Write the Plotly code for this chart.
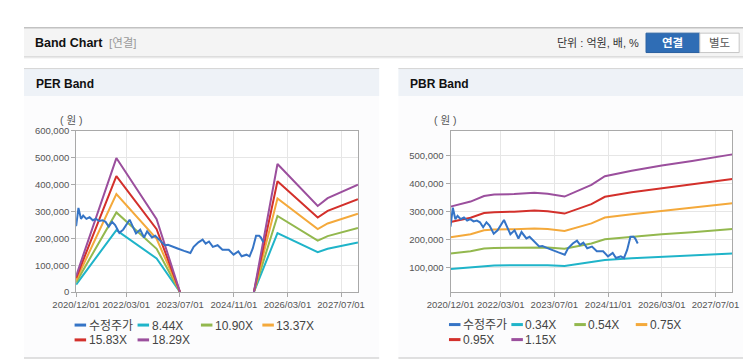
import plotly.graph_objects as go

W, H = 749, 364

# ---------------- data ----------------
price_dates = ['2020-12-01','2020-12-22','2021-01-14','2021-02-03','2021-03-04','2021-04-02','2021-05-01',
               '2021-05-30','2021-06-28','2021-07-28','2021-08-25','2021-09-23','2021-10-23','2021-11-20',
               '2021-12-28','2022-02-01','2022-03-31','2022-04-29','2022-05-28','2022-07-05','2022-08-09',
               '2022-09-06','2022-10-20','2022-11-18','2023-01-01','2023-02-13','2023-03-14','2023-04-27',
               '2023-06-09','2023-08-07','2023-10-03','2023-11-02','2023-12-15','2024-01-22','2024-02-19',
               '2024-03-20','2024-04-24','2024-06-06','2024-07-20','2024-09-15','2024-10-29','2024-12-11',
               '2025-01-10','2025-02-23','2025-03-23','2025-04-21','2025-05-21','2025-06-18','2025-07-03',
               '2025-07-26']
price_values = [245000, 313000, 272000, 284000, 272000, 278000, 267000, 272000, 264000, 267000, 261000,
                243000, 261000, 249000, 220000, 232000, 269000, 243000, 218000, 232000, 203000, 226000,
                203000, 209000, 191000, 174000, 176000, 168000, 162000, 153000, 145000, 168000, 185000,
                195000, 180000, 188000, 168000, 174000, 157000, 157000, 139000, 151000, 133000, 139000,
                133000, 162000, 209000, 209000, 203000, 185000]

per_dates = ['2020-12-01','2021-12-01','2022-12-01','2023-07-01','2024-06-01','2025-05-01',
             '2025-12-01','2026-12-01','2027-03-01','2027-12-01']
per_844 = [28000, 230000, 125000, 0, None, 0, 219000, 148000, 161000, 184000]
per_1090 = [36000, 296000, 161000, 0, None, 0, 283000, 191000, 208000, 238000]
per_1337 = [44000, 364000, 198000, 0, None, 0, 348000, 234000, 255000, 291000]
per_1583 = [52000, 431000, 234000, 0, None, 0, 412000, 277000, 302000, 345000]
per_1829 = [60000, 498000, 271000, 0, None, 0, 476000, 320000, 349000, 399000]

pbr_dates = ['2020-12-01','2021-06-01','2021-10-01','2022-01-01','2022-07-01','2023-01-01','2023-05-01',
             '2023-10-01','2024-06-01','2024-10-01','2025-06-01','2026-03-01','2026-12-01','2027-12-01']
pbr_034 = [94000, 99000, 105000, 106000, 107000, 108000, 107000, 104000, 117000, 126000, 132000, 137000, 142000, 149000]
pbr_054 = [149000, 157000, 167000, 169000, 170000, 172000, 171000, 166000, 185000, 200000, 209000, 218000, 225000, 237000]
pbr_075 = [207000, 218000, 232000, 235000, 236000, 239000, 237000, 230000, 257000, 278000, 290000, 302000, 313000, 329000]
pbr_095 = [262000, 277000, 294000, 297000, 299000, 303000, 300000, 292000, 326000, 352000, 368000, 383000, 396000, 416000]
pbr_115 = [317000, 335000, 355000, 360000, 362000, 367000, 363000, 353000, 395000, 426000, 445000, 464000, 480000, 504000]

per_names = ['8.44X', '10.90X', '13.37X', '15.83X', '18.29X']
pbr_names = ['0.34X', '0.54X', '0.75X', '0.95X', '1.15X']
x_tick_vals = ['2020-12-01', '2022-03-01', '2023-07-01', '2024-11-01', '2026-03-01', '2027-07-01']
x_tick_text = ['2020/12/01', '2022/03/01', '2023/07/01', '2024/11/01', '2026/03/01', '2027/07/01']
x_range = ['2020-12-01', '2027-12-01']

# ---------------- style ----------------
C_PRICE = '#3574c6'
BAND_COLORS = ['#1fb4c9', '#93b84e', '#f4a93b', '#d3302b', '#9b4f9d']
FONT = 'Liberation Sans, Arial, Noto Sans CJK KR, sans-serif'


def px(x):
    return x / W


def py(y):
    return 1 - y / H


fig = go.Figure()

# PER traces (bands first, price on top)
for nm, vals, col in zip(per_names, [per_844, per_1090, per_1337, per_1583, per_1829], BAND_COLORS):
    fig.add_trace(go.Scatter(x=per_dates, y=vals, mode='lines', name=nm, connectgaps=False,
                             line=dict(color=col, width=2), xaxis='x', yaxis='y'))
fig.add_trace(go.Scatter(x=price_dates, y=price_values, mode='lines', name='수정주가',
                         line=dict(color=C_PRICE, width=2), xaxis='x', yaxis='y'))

# PBR traces
for nm, vals, col in zip(pbr_names, [pbr_034, pbr_054, pbr_075, pbr_095, pbr_115], BAND_COLORS):
    fig.add_trace(go.Scatter(x=pbr_dates, y=vals, mode='lines', name=nm,
                             line=dict(color=col, width=2), xaxis='x2', yaxis='y2'))
fig.add_trace(go.Scatter(x=price_dates, y=price_values, mode='lines', name='수정주가',
                         line=dict(color=C_PRICE, width=2), xaxis='x2', yaxis='y2'))

axis_common = dict(showline=True, mirror=True, linecolor='#a9a9a9', linewidth=1,
                   gridcolor='#e6e6e6', gridwidth=1, ticks='outside', ticklen=4, tickcolor='#a9a9a9',
                   tickfont=dict(family=FONT, size=9.5, color='#555555'), zeroline=False, fixedrange=True)

ydom = [py(295), py(128.5)]
fig.update_layout(
    width=W, height=H, margin=dict(l=0, r=0, t=0, b=0),
    paper_bgcolor='white', plot_bgcolor='white', showlegend=False,
    xaxis=dict(domain=[px(54.3), px(347.9)], type='date', range=x_range,
               tickvals=x_tick_vals, ticktext=x_tick_text, anchor='y', **axis_common),
    yaxis=dict(domain=ydom, range=[0, 600000], dtick=100000, tick0=0, tickformat=',d',
               anchor='x', **axis_common),
    xaxis2=dict(domain=[px(444.3), px(737.9)], type='date', range=x_range,
                tickvals=x_tick_vals, ticktext=x_tick_text, anchor='y2', **axis_common),
    yaxis2=dict(domain=ydom, range=[11000, 589000], dtick=100000, tick0=0, tickformat=',d',
                anchor='x2', **axis_common),
)

shapes = []


def rect(x0, y0, x1, y1, fill, line_color=None, lw=0):
    shapes.append(dict(type='rect', xref='paper', yref='paper', x0=px(x0), x1=px(x1), y0=py(y1), y1=py(y0),
                       fillcolor=fill, line=dict(color=line_color or fill, width=lw), layer='below'))


def hline(x0, x1, y, color, lw=1):
    shapes.append(dict(type='line', xref='paper', yref='paper', x0=px(x0), x1=px(x1), y0=py(y), y1=py(y),
                       line=dict(color=color, width=lw), layer='below'))


# header bar
rect(0, 22, 749, 53, '#f4f4f4')
hline(0, 749, 22.5, '#c2c2c2', 1.5)
hline(0, 749, 52.5, '#cdcdcd', 1)
hline(0, 749, 53.5, '#e9e9e9', 1)

# panels
for (a, b) in [(0, 370), (390, 749)]:
    rect(a, 64, b, 93, '#eef2f7')
    rect(a, 93, b, 363, '#fcfcfd')
    hline(a, b, 64.5, '#d6d6d6', 1)
    hline(a, b, 363, '#d6d6d6', 1.5)

# plot areas white
rect(54.3, 128.5, 347.9, 295, 'white')
rect(444.3, 128.5, 737.9, 295, 'white')

# buttons
rect(648, 28, 704, 48, '#2f6db5', '#285f9f', 1)
rect(704, 28, 745, 48, 'white', '#c6c6c6', 1)

annotations = []


def text(x, y, s, size, color, bold=False, anchor='left', family=FONT):
    annotations.append(dict(xref='paper', yref='paper', x=px(x), y=py(y), text=('<b>%s</b>' % s) if bold else s,
                            showarrow=False, xanchor=anchor, yanchor='middle', borderpad=0,
                            font=dict(family=family, size=size, color=color)))


text(10.5, 38, 'Band Chart', 12.5, '#111111', bold=True)
text(87, 38, '[연결]', 11.5, '#9a9a9a')
text(642, 38, '단위 : 억원, 배, %', 11, '#333333', anchor='right')
text(676, 38, '연결', 11.5, 'white', bold=True, anchor='center')
text(724.5, 38, '별도', 11.5, '#555555', anchor='center')

text(11, 80, 'PER Band', 12, '#111111', bold=True)
text(401, 80, 'PBR Band', 12, '#111111', bold=True)
text(49, 118, '( 원 )', 10.5, '#555555', anchor='center')
text(439, 118, '( 원 )', 10.5, '#555555', anchor='center')


def legend_item(x_sym, y, label, color):
    shapes.append(dict(type='line', xref='paper', yref='paper', x0=px(x_sym), x1=px(x_sym + 12),
                       y0=py(y), y1=py(y), line=dict(color=color, width=3)))
    text(x_sym + 13.5, y + 0.5, label, 12, '#444444')


per_leg = [(52.7, 329, '수정주가', C_PRICE)] + \
          [(x, yy, n, c) for (x, yy), n, c in zip([(118.3, 329), (184.3, 329), (248.3, 329), (52.7, 344.3), (118.3, 344.3)],
                                                   per_names, BAND_COLORS)]
pbr_leg = [(442.7, 328.5, '수정주가', C_PRICE)] + \
          [(x, yy, n, c) for (x, yy), n, c in zip([(507.7, 328.5), (573.3, 328.5), (637.3, 328.5), (442.7, 344), (507.7, 344)],
                                                   pbr_names, BAND_COLORS)]
for it in per_leg + pbr_leg:
    legend_item(*it)

fig.update_layout(shapes=shapes, annotations=annotations)
fig.write_html('out.html', config={'displayModeBar': False},
               post_script="document.body.style.margin='0';document.body.style.overflow='hidden';")
